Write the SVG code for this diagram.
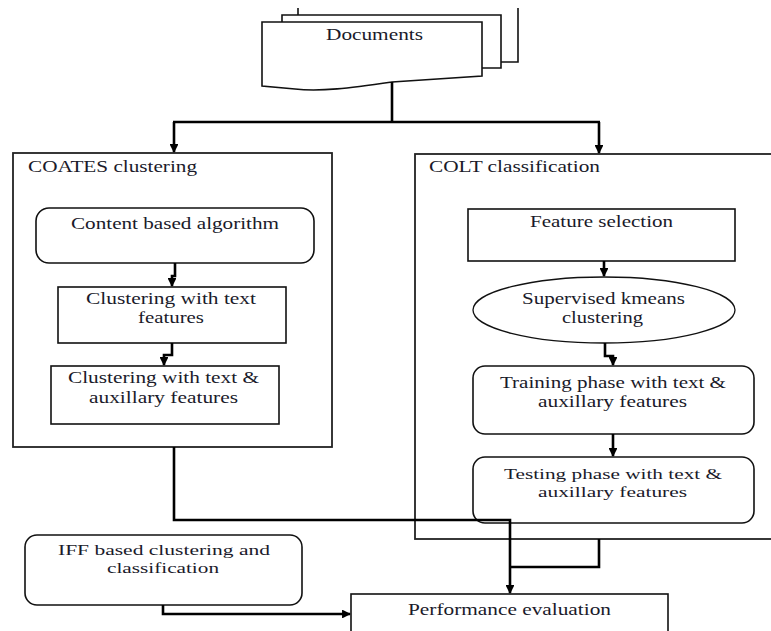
<svg xmlns="http://www.w3.org/2000/svg" width="771" height="631" viewBox="0 0 771 631">
<style>
text{font-family:"Liberation Serif","Times New Roman",serif;font-size:17px;fill:#1a1a2a;text-anchor:middle}
.t{text-anchor:start}
.s{font-size:15px}
.box{fill:#fff;stroke:#111;stroke-width:1.6}
.cont{fill:#fff;stroke:#222;stroke-width:1.8}
.c{fill:none;stroke:#000;stroke-width:2.6}
</style>
<defs>
<marker id="ah" viewBox="0 0 10 10" refX="9" refY="5" markerWidth="3.4" markerHeight="3.4" orient="auto" markerUnits="strokeWidth">
<path d="M0,0 L10,5 L0,10 Z" fill="#000"/>
</marker>
</defs>
<rect width="771" height="631" fill="#fff"/>

<g id="documents">
<path d="M298,8 V15 M518,8 V62 H501" fill="none" stroke="#111" stroke-width="1.6"/>
<path d="M282,22 V15 H501 V68 H482" fill="none" stroke="#111" stroke-width="1.6"/>
<path d="M262,22 H482 V76 C450,78 420,80 392,82 C350,88 320,92 295,89 L262,86 Z" class="box"/>
<text x="374.5" y="40" textLength="97" lengthAdjust="spacingAndGlyphs">Documents</text>
</g>

<g id="coates">
<rect x="13" y="153" width="319" height="294" class="cont"/>
<text class="t" x="28" y="172" textLength="169" lengthAdjust="spacingAndGlyphs">COATES clustering</text>
</g>

<g id="content">
<rect x="36" y="208" width="278" height="55" rx="13" class="box"/>
<text x="175" y="229" textLength="208" lengthAdjust="spacingAndGlyphs">Content based algorithm</text>
</g>

<g id="clust-text">
<rect x="58" y="287" width="228" height="56" class="box"/>
<text x="171" y="304" textLength="170" lengthAdjust="spacingAndGlyphs">Clustering with text</text>
<text x="171" y="323" textLength="66" lengthAdjust="spacingAndGlyphs">features</text>
</g>

<g id="clust-aux">
<rect x="51" y="366" width="228" height="58" class="box"/>
<text x="163.5" y="383" textLength="191" lengthAdjust="spacingAndGlyphs">Clustering with text &amp;</text>
<text x="163.5" y="403" textLength="149" lengthAdjust="spacingAndGlyphs">auxillary features</text>
</g>

<g id="colt">
<rect x="415" y="154" width="370" height="385" class="cont"/>
<text class="t" x="429" y="172" textLength="171" lengthAdjust="spacingAndGlyphs">COLT classification</text>
</g>

<g id="feature">
<rect x="468" y="209" width="267" height="52" class="box"/>
<text x="601.5" y="227" textLength="143" lengthAdjust="spacingAndGlyphs">Feature selection</text>
</g>

<g id="kmeans">
<ellipse cx="604" cy="310" rx="131" ry="33" fill="#fff" stroke="#111" stroke-width="1.3"/>
<text x="603.5" y="304" textLength="163" lengthAdjust="spacingAndGlyphs">Supervised kmeans</text>
<text x="602.5" y="323" textLength="81" lengthAdjust="spacingAndGlyphs">clustering</text>
</g>

<g id="training">
<rect x="473" y="366" width="281" height="68" rx="12" class="box"/>
<text x="613" y="388" textLength="226" lengthAdjust="spacingAndGlyphs">Training phase with text &amp;</text>
<text x="612.5" y="407" textLength="149" lengthAdjust="spacingAndGlyphs">auxillary features</text>
</g>

<g id="testing">
<rect x="473" y="457" width="281" height="66" rx="12" class="box"/>
<text class="s" x="613" y="479" textLength="218" lengthAdjust="spacingAndGlyphs">Testing phase with text &amp;</text>
<text class="s" x="612.5" y="497" textLength="149" lengthAdjust="spacingAndGlyphs">auxillary features</text>
</g>

<g id="iff">
<rect x="25" y="535" width="277" height="70" rx="12" class="box"/>
<text class="s" x="164" y="555" textLength="212" lengthAdjust="spacingAndGlyphs">IFF based clustering and</text>
<text class="s" x="163" y="573" textLength="112" lengthAdjust="spacingAndGlyphs">classification</text>
</g>

<g id="performance">
<rect x="351" y="594" width="317" height="60" class="box"/>
<text x="509.5" y="615" textLength="203" lengthAdjust="spacingAndGlyphs">Performance evaluation</text>
</g>

<g id="connectors">
<path class="c" d="M392,82 V122"/>
<path class="c" d="M173,122 H600"/>
<path class="c" d="M174,122 V152" marker-end="url(#ah)"/>
<path class="c" d="M599,122 V153" marker-end="url(#ah)"/>
<path class="c" d="M175,263 V276 H172 V286" marker-end="url(#ah)"/>
<path class="c" d="M172,343 V355 H164 V365" marker-end="url(#ah)"/>
<path class="c" d="M604,261 V276" marker-end="url(#ah)"/>
<path class="c" d="M605,343 V356 H613 V365" marker-end="url(#ah)"/>
<path class="c" d="M613,434 V456" marker-end="url(#ah)"/>
<path class="c" d="M174,447 V520 H510 V593" marker-end="url(#ah)"/>
<path class="c" d="M599,539 V567 H510"/>
<path class="c" d="M163,605 V614 H350" marker-end="url(#ah)"/>
</g>
</svg>
